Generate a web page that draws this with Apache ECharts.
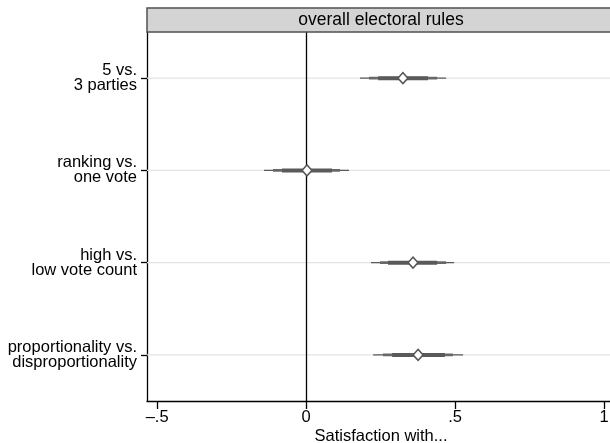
<!DOCTYPE html>
<html>
<head>
<meta charset="utf-8">
<script src="https://cdn.jsdelivr.net/npm/echarts@6/dist/echarts.min.js"></script>
<style>
html,body{margin:0;padding:0;background:#fff;overflow:hidden;}
#c{width:610px;height:443px;}
</style>
</head>
<body>
<div id="c"></div>
<script>
var categories = ['5 vs.\n3 parties', 'ranking vs.\none vote', 'high vs.\nlow vote count', 'proportionality vs.\ndisproportionality'];
var estimates = [0.325, 0.003, 0.359, 0.376];
var ci99Low = [0.181, -0.141, 0.218, 0.225];
var ci99High = [0.470, 0.144, 0.497, 0.527];
var ci95Low = [0.211, -0.111, 0.248, 0.258];
var ci95High = [0.440, 0.114, 0.470, 0.493];
var ci90Low = [0.242, -0.081, 0.275, 0.289];
var ci90High = [0.409, 0.087, 0.440, 0.466];
var xTicks = [-0.5, 0, 0.5, 1];
var xTickLabels = ['\u2013.5', '0', '.5', '1'];
var panelTitle = 'overall electoral rules';
var xTitle = 'Satisfaction with...';

var FONT = 'Liberation Sans, Arial, Helvetica, sans-serif';
var CI_COLOR = '#5a5a5a';

function ciSeries(lo, hi, width, color) {
  return {
    type: 'custom',
    data: categories.map(function (c, i) { return [lo[i], hi[i], i]; }),
    encode: { x: [0, 1], y: 2 },
    z: 3,
    silent: true,
    renderItem: function (params, api) {
      var a = api.coord([api.value(0), api.value(2)]);
      var b = api.coord([api.value(1), api.value(2)]);
      return {
        type: 'line',
        shape: { x1: a[0], y1: a[1], x2: b[0], y2: b[1] },
        style: { stroke: color, lineWidth: width }
      };
    }
  };
}

var chart = echarts.init(document.getElementById('c'), null, { renderer: 'canvas' });
var option = {
  animation: false,
  backgroundColor: '#ffffff',
  textStyle: { fontFamily: FONT },
  grid: { left: 147, right: -5, top: 32, bottom: 42, containLabel: false, outerBoundsMode: 'none' },
  xAxis: {
    type: 'value',
    min: -0.534,
    max: 1.037,
    splitLine: { show: false },
    axisLine: { show: true, onZero: false, lineStyle: { color: '#000', width: 1.3 } },
    axisTick: { show: true, customValues: xTicks, length: 8, lineStyle: { color: '#000', width: 1.3 } },
    axisLabel: {
      customValues: xTicks,
      color: '#000', fontSize: 16.5, margin: 8, fontFamily: FONT,
      formatter: function (v) {
        var i = xTicks.indexOf(v);
        return i >= 0 ? xTickLabels[i] : '';
      }
    },
    name: xTitle,
    nameLocation: 'middle',
    nameGap: 27,
    nameMoveOverlap: false,
    nameTextStyle: { color: '#000', fontSize: 16.5, fontFamily: FONT }
  },
  yAxis: {
    type: 'category',
    data: categories,
    inverse: true,
    boundaryGap: true,
    axisLine: { show: true, onZero: false, lineStyle: { color: '#000', width: 1.3 } },
    axisTick: { show: true, alignWithLabel: true, length: 6, lineStyle: { color: '#000', width: 1.3 } },
    splitLine: { show: false },
    axisLabel: { color: '#000', fontSize: 16.5, lineHeight: 15, margin: 10, align: 'right', fontFamily: FONT }
  },
  graphic: [
    {
      type: 'rect', z: 10,
      shape: { x: 147, y: 8, width: 470, height: 24 },
      style: { fill: '#d4d4d4', stroke: '#505050', lineWidth: 1.5 }
    },
    {
      type: 'text', z: 11,
      x: 381, y: 20,
      style: { text: panelTitle, fill: '#000', font: '17.5px ' + FONT, textAlign: 'center', textVerticalAlign: 'middle' }
    }
  ],
  series: [
    {
      type: 'custom',
      data: categories.map(function (c, i) { return [0, i]; }),
      encode: { x: 0, y: 1 },
      z: 1,
      silent: true,
      renderItem: function (params, api) {
        var p = api.coord([0, api.value(1)]);
        var cs = params.coordSys;
        return {
          type: 'line',
          shape: { x1: cs.x, y1: p[1], x2: cs.x + cs.width, y2: p[1] },
          style: { stroke: '#e3e3e3', lineWidth: 1.3 }
        };
      }
    },
    ciSeries(ci99Low, ci99High, 1.3, CI_COLOR),
    ciSeries(ci95Low, ci95High, 2.6, '#686868'),
    ciSeries(ci90Low, ci90High, 4, CI_COLOR),
    {
      type: 'scatter',
      data: estimates.map(function (v, i) { return [v, i]; }),
      symbol: 'diamond',
      symbolSize: [10, 11],
      z: 5,
      itemStyle: { color: '#ffffff', borderColor: '#555555', borderWidth: 1.5, opacity: 1 },
      markLine: {
        silent: true,
        symbol: ['none', 'none'],
        label: { show: false },
        lineStyle: { color: '#000', width: 1.3, type: 'solid' },
        data: [{ xAxis: 0 }],
        z: 2
      }
    }
  ]
};
chart.setOption(option);
</script>
</body>
</html>
